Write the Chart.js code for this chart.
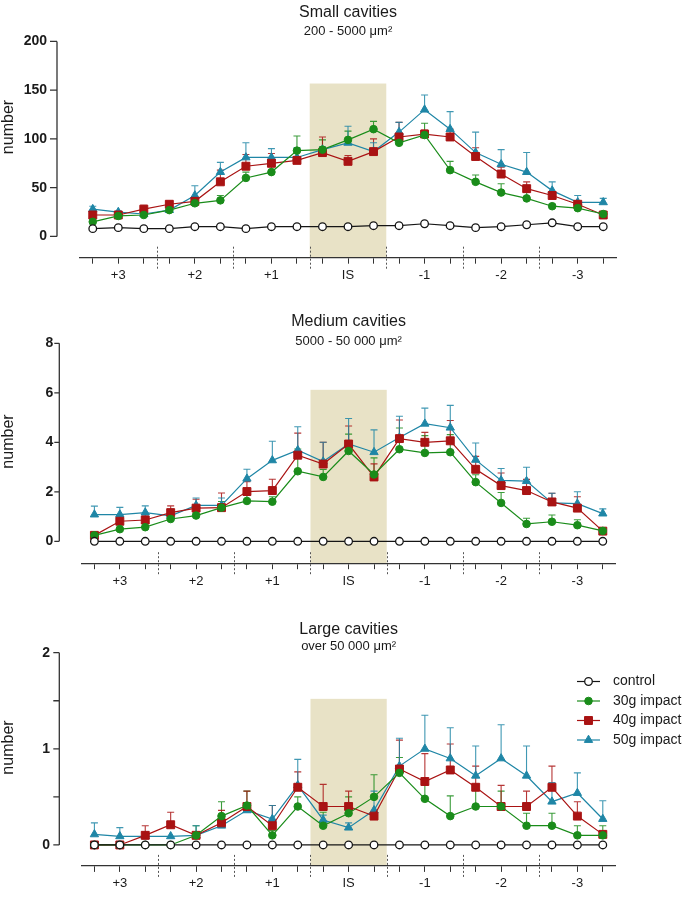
<!DOCTYPE html>
<html>
<head>
<meta charset="utf-8">
<script src="https://cdn.jsdelivr.net/npm/chart.js@4.4.1/dist/chart.umd.min.js"></script>
<style>
  body { margin: 0; background: #fff; }
  #wrap { position: relative; width: 685px; height: 906px; }
  canvas { position: absolute; left: 0; }
</style>
</head>
<body>
<div id="wrap">
  <canvas id="smallChart" width="685" height="300" style="top:0px"></canvas>
  <canvas id="mediumChart" width="685" height="300" style="top:300px"></canvas>
  <canvas id="largeChart" width="685" height="306" style="top:600px"></canvas>
</div>
<script>
const SECTION_LABELS = ['', '+3', '', '', '+2', '', '', '+1', '', '', 'IS', '', '', '-1', '', '', '-2', '', '', '-3', ''];
const SEPARATORS = [2.5, 5.5, 8.5, 11.5, 14.5, 17.5];
const SERIES_NAMES = ['control', '30g impact', '40g impact', '50g impact'];

// small cavities (200 - 5000 um2)
const smallControl = [8, 9, 8, 8, 10, 10, 8, 10, 10, 10, 10, 11, 11, 13, 11, 9, 10, 12, 14, 10, 10];
const smallControlErr = [1, 1, 1, 1, 1, 1, 1, 1, 1, 1, 1, 2, 1, 1, 1, 1, 1, 2, 2, 1, 1];
const small30 = [15, 21, 22, 27, 34, 37, 60, 66, 88, 89, 99, 110, 96, 104, 68, 56, 45, 39, 31, 29, 23];
const small30Err = [3, 2, 2, 2, 2, 5, 6, 6, 15, 10, 9, 8, 6, 12, 9, 7, 9, 6, 2, 2, 2];
const small40 = [22, 22, 28, 33, 36, 56, 72, 75, 78, 86, 77, 87, 102, 105, 102, 82, 64, 49, 42, 33, 22];
const small40Err = [3, 3, 4, 3, 3, 12, 12, 10, 4, 16, 6, 13, 15, 4, 8, 9, 7, 7, 4, 2, 2];
const small50 = [28, 25, 23, 27, 42, 66, 81, 81, 81, 89, 96, 87, 107, 130, 110, 86, 74, 66, 47, 35, 35];
const small50Err = [3, 1, 2, 2, 10, 10, 15, 9, 10, 3, 17, 9, 10, 15, 18, 21, 15, 20, 9, 7, 4];

// medium cavities (5000 - 50 000 um2)
const mediumControl = [0, 0, 0, 0, 0, 0, 0, 0, 0, 0, 0, 0, 0, 0, 0, 0, 0, 0, 0, 0, 0];
const medium30 = [0.24, 0.49, 0.57, 0.9, 1.04, 1.36, 1.63, 1.6, 2.83, 2.6, 3.65, 2.7, 3.72, 3.57, 3.6, 2.39, 1.55, 0.7, 0.79, 0.65, 0.42];
const medium30Err = [0.05, 0.05, 0.05, 0.1, 0.1, 0.25, 0.3, 0.2, 0.9, 0.3, 0.68, 0.67, 0.86, 0.7, 0.71, 0.3, 0.42, 0.23, 0.27, 0.22, 0.05];
const medium40 = [0.24, 0.81, 0.86, 1.16, 1.34, 1.36, 2.01, 2.05, 3.48, 3.12, 3.93, 2.6, 4.15, 4.0, 4.06, 2.91, 2.25, 2.05, 1.59, 1.34, 0.41];
const medium40Err = [0.05, 0.2, 0.2, 0.27, 0.36, 0.59, 0.4, 0.46, 0.89, 0.88, 0.73, 0.53, 0.75, 0.4, 0.82, 0.52, 0.51, 0.45, 0.35, 0.46, 0.05];
const medium50 = [1.08, 1.08, 1.16, 1.03, 1.45, 1.45, 2.53, 3.27, 3.68, 3.22, 3.93, 3.6, 4.19, 4.75, 4.59, 3.29, 2.46, 2.43, 1.55, 1.52, 1.12];
const medium50Err = [0.34, 0.29, 0.27, 0.1, 0.3, 0.3, 0.38, 0.77, 0.95, 0.78, 1.03, 0.9, 0.86, 0.63, 0.9, 0.68, 0.48, 0.56, 0.39, 0.48, 0.19];

// large cavities (over 50 000 um2)
const largeControl = [0, 0, 0, 0, 0, 0, 0, 0, 0, 0, 0, 0, 0, 0, 0, 0, 0, 0, 0, 0, 0];
const large30 = [0, 0, 0, 0, 0.1, 0.3, 0.41, 0.1, 0.4, 0.2, 0.33, 0.5, 0.75, 0.48, 0.3, 0.4, 0.4, 0.2, 0.2, 0.1, 0.1];
const large30Err = [0, 0, 0, 0, 0.1, 0.15, 0.15, 0.05, 0.1, 0.14, 0.17, 0.23, 0.16, 0.15, 0.21, 0.19, 0.16, 0.13, 0.13, 0.1, 0.1];
const large40 = [0, 0, 0.1, 0.21, 0.1, 0.23, 0.4, 0.2, 0.6, 0.4, 0.4, 0.3, 0.79, 0.66, 0.78, 0.6, 0.4, 0.4, 0.6, 0.3, 0.11];
const large40Err = [0, 0, 0.1, 0.13, 0, 0.13, 0.16, 0.21, 0.16, 0.23, 0.16, 0.05, 0.3, 0.29, 0.27, 0.22, 0.22, 0.16, 0.22, 0.15, 0.02];
const large50 = [0.11, 0.09, 0.09, 0.09, 0.1, 0.2, 0.36, 0.27, 0.62, 0.26, 0.18, 0.36, 0.82, 1.0, 0.9, 0.72, 0.9, 0.72, 0.45, 0.54, 0.27];
const large50Err = [0.12, 0.09, 0, 0, 0.1, 0, 0.05, 0.14, 0.27, 0.05, 0.05, 0.2, 0.29, 0.35, 0.32, 0.31, 0.35, 0.31, 0.2, 0.21, 0.19];

const FONT = "'Liberation Sans', Arial, Helvetica, sans-serif";
Chart.defaults.font.family = FONT;
Chart.defaults.color = '#1a1a1a';

const STYLES = [
  { color: '#151515', fill: '#ffffff', pointStyle: 'circle', radius: 3.8, border: 1.3 },
  { color: '#1a8c1a', fill: '#1a8c1a', pointStyle: 'circle', radius: 3.8, border: 1 },
  { color: '#a91313', fill: '#a91313', pointStyle: 'rect', radius: 5.6, border: 1 },
  { color: '#1f86a6', fill: '#1f86a6', pointStyle: 'triangle', radius: 4.8, border: 1 }
];

// shading, error bars, offset y axis, section separators, legend
const panelDecor = {
  id: 'panelDecor',
  beforeDraw(chart, args, o) {
    const { ctx, chartArea } = chart;
    const x = chart.scales.x, y = chart.scales.y;
    const x0 = x.getPixelForValue(o.shadeFrom);
    const x1 = x.getPixelForValue(o.shadeTo);
    const y0 = y.getPixelForValue(o.shadeTop);
    ctx.save();
    ctx.fillStyle = '#e8e2c6';
    ctx.fillRect(x0, y0, x1 - x0, chartArea.bottom - y0);
    ctx.restore();
  },
  beforeDatasetsDraw(chart) {
    const { ctx } = chart;
    const y = chart.scales.y;
    chart.data.datasets.forEach((ds, i) => {
      if (!ds.errors) return;
      const meta = chart.getDatasetMeta(i);
      ctx.save();
      ctx.strokeStyle = ds.borderColor;
      ctx.globalAlpha = 0.85;
      ctx.lineWidth = 1.1;
      meta.data.forEach((pt, j) => {
        const e = ds.errors[j];
        if (!e) return;
        const top = y.getPixelForValue(ds.data[j] + e);
        ctx.beginPath();
        ctx.moveTo(pt.x, pt.y);
        ctx.lineTo(pt.x, top);
        ctx.moveTo(pt.x - 3.5, top);
        ctx.lineTo(pt.x + 3.5, top);
        ctx.stroke();
      });
      ctx.restore();
    });
  },
  afterDraw(chart, args, o) {
    const { ctx, chartArea } = chart;
    const x = chart.scales.x, y = chart.scales.y;
    ctx.save();
    // y axis, detached from the plot
    const yTop = y.getPixelForValue(y.max);
    const yZero = y.getPixelForValue(0);
    ctx.strokeStyle = '#333';
    ctx.lineWidth = 1.3;
    ctx.beginPath();
    ctx.moveTo(o.axisX, yTop);
    ctx.lineTo(o.axisX, yZero);
    y.ticks.forEach(t => {
      const py = y.getPixelForValue(t.value);
      ctx.moveTo(o.axisX - o.tickLen, py);
      ctx.lineTo(o.axisX, py);
    });
    ctx.stroke();

    // dotted section separators
    ctx.strokeStyle = '#555';
    ctx.lineWidth = 1;
    ctx.setLineDash([2, 2]);
    ctx.beginPath();
    SEPARATORS.forEach(v => {
      const px = Math.round(x.getPixelForValue(v)) + 0.5;
      ctx.moveTo(px, chartArea.bottom - 11);
      ctx.lineTo(px, chartArea.bottom + 11);
    });
    ctx.stroke();
    ctx.setLineDash([]);

    // y title
    ctx.fillStyle = '#1a1a1a';
    ctx.font = '16px ' + FONT;
    ctx.textAlign = 'center';
    ctx.textBaseline = 'middle';
    ctx.translate(9, o.titleY);
    ctx.rotate(-Math.PI / 2);
    ctx.fillText('number', 0, 0);
    ctx.restore();

    if (o.legend) {
      const lg = o.legend;
      ctx.save();
      chart.data.datasets.forEach((ds, i) => {
        const cy = lg.y + i * lg.gap;
        ctx.strokeStyle = ds.borderColor;
        ctx.lineWidth = 1.2;
        ctx.beginPath();
        ctx.moveTo(lg.x, cy);
        ctx.lineTo(lg.x + lg.w, cy);
        ctx.stroke();
        ctx.fillStyle = ds.pointBackgroundColor;
        ctx.strokeStyle = ds.pointBorderColor;
        ctx.lineWidth = ds.pointBorderWidth;
        Chart.helpers.drawPoint(ctx, {
          pointStyle: ds.pointStyle, radius: ds.pointRadius,
          borderWidth: ds.pointBorderWidth, rotation: 0
        }, lg.x + lg.w / 2, cy);
        ctx.fillStyle = '#1a1a1a';
        ctx.font = '14px ' + FONT;
        ctx.textAlign = 'left';
        ctx.textBaseline = 'middle';
        ctx.fillText(ds.label, lg.x + lg.w + 13, cy);
      });
      ctx.restore();
    }
  }
};

function makeDataset(i, values, errors) {
  const s = STYLES[i];
  return {
    label: SERIES_NAMES[i],
    data: values,
    errors: errors,
    borderColor: s.color,
    borderWidth: 1.2,
    pointStyle: s.pointStyle,
    pointRadius: s.radius,
    pointBackgroundColor: s.fill,
    pointBorderColor: s.color,
    pointBorderWidth: s.border,
    fill: false,
    tension: 0
  };
}

function makePanel(canvasId, p) {
  return new Chart(document.getElementById(canvasId).getContext('2d'), {
    type: 'line',
    data: {
      labels: SECTION_LABELS,
      datasets: p.series.map((vals, i) => makeDataset(i, vals, p.errors[i]))
    },
    options: {
      responsive: false,
      animation: false,
      events: [],
      layout: { padding: { top: p.padTop, bottom: p.padBottom, left: 0, right: 685 - p.right } },
      scales: {
        x: {
          type: 'category',
          offset: true,
          afterFit: s => { s.height = 24; },
          border: { display: true, color: '#333', width: 1.3 },
          grid: { display: true, offset: false, drawOnChartArea: false, drawTicks: true, tickLength: 6, color: '#333', lineWidth: 1 },
          ticks: { autoSkip: false, maxRotation: 0, padding: 4, font: { size: 13 }, color: '#1a1a1a' }
        },
        y: {
          min: p.yMin,
          max: p.yMax,
          afterBuildTicks: s => { s.ticks = p.yTicks.map(v => ({ value: v })); },
          afterFit: s => { s.width = p.left; },
          border: { display: false },
          grid: { display: false, drawTicks: false },
          ticks: {
            padding: p.labelPad,
            font: { size: 14, weight: 'bold' },
            color: '#1a1a1a',
            callback: v => (Number.isInteger(v) ? String(v) : '')
          }
        }
      },
      plugins: {
        legend: { display: false },
        tooltip: { enabled: false },
        title: {
          display: true, text: p.title, fullSize: false,
          font: { size: 16, weight: 'normal', lineHeight: 1 },
          color: '#1a1a1a', padding: { top: 0, bottom: 0 }
        },
        subtitle: {
          display: true, text: p.subtitle, fullSize: false,
          font: { size: 13, weight: 'normal', lineHeight: 1 },
          color: '#1a1a1a', padding: { top: p.subTop, bottom: p.subBottom }
        },
        panelDecor: {
          shadeFrom: 8.5, shadeTo: 11.5, shadeTop: p.shadeTop,
          axisX: p.axisX, tickLen: p.tickLen, titleY: p.titleY,
          legend: p.legend
        }
      }
    },
    plugins: [panelDecor]
  });
}

makePanel('smallChart', {
  title: 'Small cavities', subtitle: '200 - 5000 μm²',
  series: [smallControl, small30, small40, small50],
  errors: [smallControlErr, small30Err, small40Err, small50Err],
  yMin: -21.8, yMax: 200, yTicks: [0, 50, 100, 150, 200], shadeTop: 156.8,
  left: 80, right: 616, axisX: 57, tickLen: 7, labelPad: 33, titleY: 127,
  padTop: 0, subTop: 4.2, subBottom: 3.8, padBottom: 18.3
});

makePanel('mediumChart', {
  title: 'Medium cavities', subtitle: '5000 - 50 000 μm²',
  series: [mediumControl, medium30, medium40, medium50],
  errors: [null, medium30Err, medium40Err, medium50Err],
  yMin: -0.885, yMax: 8, yTicks: [0, 2, 4, 6, 8], shadeTop: 6.12,
  left: 81.7, right: 615.5, axisX: 59.3, tickLen: 5, labelPad: 28.4, titleY: 141.5,
  padTop: 13.8, subTop: 5, subBottom: -4.5, padBottom: 8.7
});

makePanel('largeChart', {
  title: 'Large cavities', subtitle: 'over 50 000 μm²',
  series: [largeControl, large30, large40, large50],
  errors: [null, large30Err, large40Err, large50Err],
  yMin: -0.218, yMax: 2, yTicks: [0, 0.5, 1, 1.5, 2], shadeTop: 1.52,
  left: 81.7, right: 615.5, axisX: 59.3, tickLen: 6, labelPad: 31.7, titleY: 147.5,
  padTop: 22, subTop: 2.2, subBottom: -0.5, padBottom: 1.3,
  legend: { x: 577, y: 81.5, gap: 19.5, w: 23 }
});
</script>
</body>
</html>
